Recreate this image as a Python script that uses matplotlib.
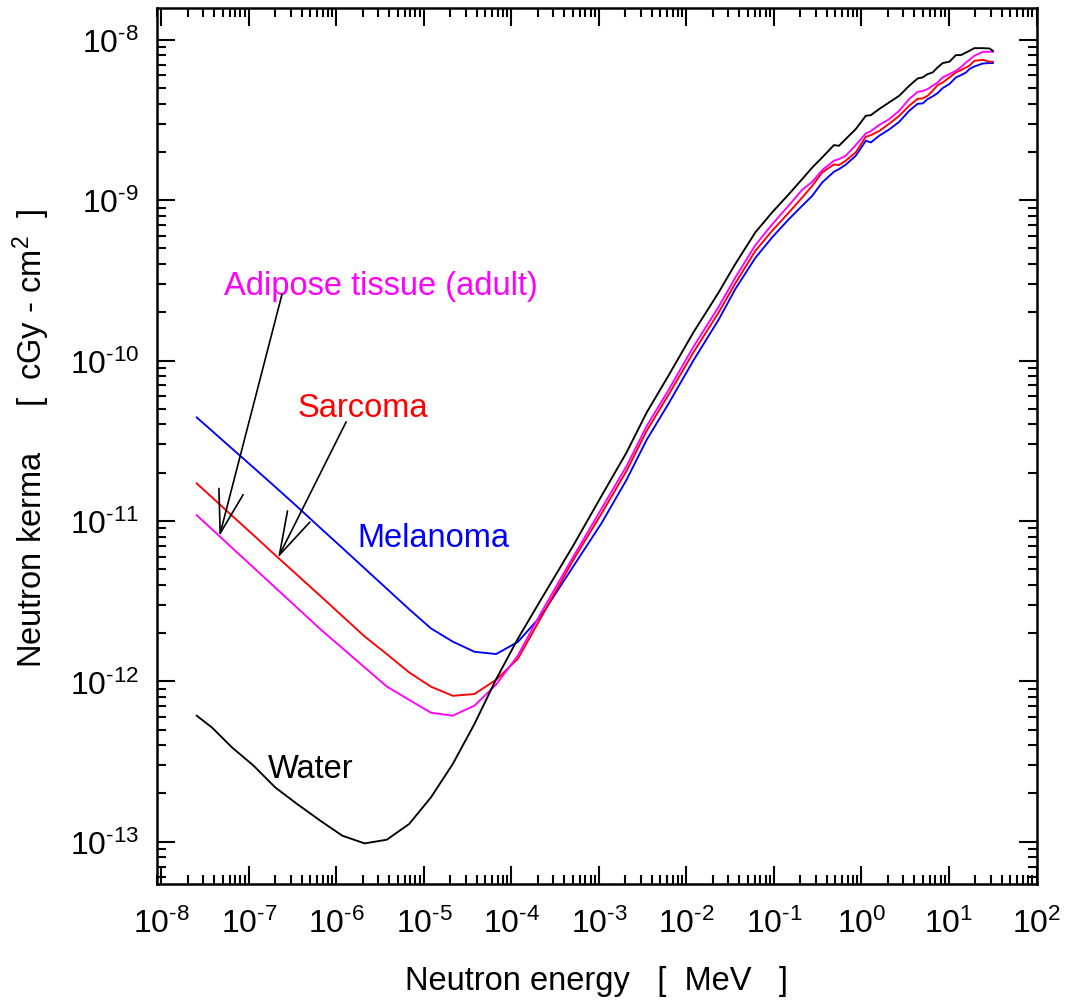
import numpy as np
import matplotlib
matplotlib.use("Agg")
import matplotlib.pyplot as plt
from matplotlib.ticker import LogLocator, FixedLocator, FuncFormatter, NullFormatter

plt.rcParams['font.family'] = ['Liberation Sans', 'DejaVu Sans']
plt.rcParams['mathtext.fontset'] = 'custom'
plt.rcParams['mathtext.rm'] = 'Liberation Sans'
plt.rcParams['mathtext.it'] = 'Liberation Sans:italic'
plt.rcParams['mathtext.bf'] = 'Liberation Sans:bold'
plt.rcParams['mathtext.default'] = 'regular'
plt.rcParams['axes.unicode_minus'] = False

# ---------------- data (neutron energy in MeV, kerma in cGy cm^2) ----------------
energy_MeV = [2.53e-8, 3.77e-8, 6.38e-8, 1.13e-7, 2.00e-7, 3.55e-7, 6.58e-7, 1.17e-6,
              2.10e-6, 3.76e-6, 6.76e-6, 1.20e-5, 2.13e-5, 3.77e-5, 6.67e-5, 1.18e-4,
              2.19e-4, 5.06e-4, 1.07e-3, 2.07e-3, 3.51e-3, 6.21e-3, 1.20e-2, 2.33e-2,
              3.61e-2, 6.12e-2, 9.51e-2, 0.148, 0.210, 0.274, 0.356, 0.484, 0.553, 0.659,
              0.859, 1.12, 1.28, 1.59, 2.07, 2.70, 3.51, 4.38, 4.99, 5.70, 6.50, 7.41,
              8.47, 10.1, 12.0, 13.7, 15.7, 17.1, 19.5, 24.4, 29.0, 31.7]

kerma_water = [6.11e-13, 5.16e-13, 3.88e-13, 2.98e-13, 2.18e-13, 1.72e-13, 1.35e-13, 1.09e-13,
               9.77e-14, 1.03e-13, 1.29e-13, 1.89e-13, 3.05e-13, 5.42e-13, 1.03e-12, 1.84e-12,
               3.26e-12, 7.00e-12, 1.435e-11, 2.68e-11, 4.75e-11, 8.04e-11, 1.50e-10, 2.66e-10,
               4.00e-10, 6.30e-10, 8.39e-10, 1.091e-9, 1.354e-9, 1.600e-9, 1.848e-9, 2.205e-9,
               2.184e-9, 2.404e-9, 2.773e-9, 3.36e-9, 3.39e-9, 3.70e-9, 4.07e-9, 4.48e-9,
               5.17e-9, 5.74e-9, 5.83e-9, 6.11e-9, 6.26e-9, 6.73e-9, 7.16e-9, 7.30e-9,
               8.03e-9, 8.03e-9, 8.34e-9, 8.54e-9, 8.87e-9, 8.87e-9, 8.83e-9, 8.54e-9]

kerma_adipose = [1.086e-11, 8.89e-12, 6.82e-12, 5.12e-12, 3.84e-12, 2.88e-12, 2.11e-12, 1.61e-12,
                 1.222e-12, 9.29e-13, 7.67e-13, 6.38e-13, 6.11e-13, 7.05e-13, 9.55e-13, 1.445e-12,
                 2.69e-12, 5.96e-12, 1.194e-11, 2.203e-11, 3.91e-11, 6.53e-11, 1.219e-10, 2.163e-10,
                 3.29e-10, 5.24e-10, 7.06e-10, 9.29e-10, 1.161e-9, 1.303e-9, 1.541e-9, 1.762e-9,
                 1.804e-9, 1.892e-9, 2.205e-9, 2.607e-9, 2.697e-9, 2.94e-9, 3.20e-9, 3.61e-9,
                 4.27e-9, 4.74e-9, 4.79e-9, 4.93e-9, 5.17e-9, 5.42e-9, 5.83e-9, 6.11e-9,
                 6.41e-9, 6.76e-9, 7.23e-9, 7.50e-9, 7.95e-9, 8.42e-9, 8.42e-9, 8.42e-9]

kerma_sarcoma = [1.714e-11, 1.406e-11, 1.081e-11, 8.15e-12, 6.12e-12, 4.61e-12, 3.40e-12, 2.55e-12,
                 1.905e-12, 1.48e-12, 1.138e-12, 9.27e-13, 8.13e-13, 8.34e-13, 1.023e-12, 1.38e-12,
                 2.51e-12, 5.69e-12, 1.114e-11, 2.056e-11, 3.65e-11, 6.10e-11, 1.125e-10, 1.995e-10,
                 3.03e-10, 4.83e-10, 6.44e-10, 8.38e-10, 1.040e-9, 1.230e-9, 1.490e-9, 1.671e-9,
                 1.655e-9, 1.762e-9, 1.986e-9, 2.485e-9, 2.546e-9, 2.697e-9, 2.995e-9, 3.36e-9,
                 3.88e-9, 4.29e-9, 4.31e-9, 4.48e-9, 4.81e-9, 5.22e-9, 5.42e-9, 5.83e-9,
                 6.26e-9, 6.47e-9, 6.73e-9, 6.89e-9, 7.40e-9, 7.50e-9, 7.30e-9, 7.30e-9]

kerma_melanoma = [4.42e-11, 3.65e-11, 2.83e-11, 2.15e-11, 1.63e-11, 1.23e-11, 9.02e-12, 6.78e-12,
                  5.06e-12, 3.78e-12, 2.82e-12, 2.14e-12, 1.77e-12, 1.53e-12, 1.48e-12, 1.76e-12,
                  2.57e-12, 5.19e-12, 9.70e-12, 1.811e-11, 3.21e-11, 5.37e-11, 1.002e-10, 1.799e-10,
                  2.79e-10, 4.37e-10, 5.86e-10, 7.62e-10, 9.23e-10, 1.066e-9, 1.291e-9, 1.504e-9,
                  1.563e-9, 1.663e-9, 1.892e-9, 2.346e-9, 2.291e-9, 2.52e-9, 2.76e-9, 3.08e-9,
                  3.61e-9, 3.99e-9, 4.01e-9, 4.27e-9, 4.44e-9, 4.65e-9, 5.00e-9, 5.30e-9,
                  5.83e-9, 6.02e-9, 6.26e-9, 6.57e-9, 6.82e-9, 7.12e-9, 7.16e-9, 7.16e-9]

labels = ["Water", "Melanoma", "Sarcoma", "Adipose tissue (adult)"]
colors = ["#000000", "#0000ff", "#ff0000", "#ff00ff"]

x_decades = list(range(-8, 3))
y_decades = list(range(-13, -7))

# ---------------- figure ----------------
fig = plt.figure(figsize=(10.69, 10.03), dpi=100)
ax = fig.add_axes([0.1471, 0.1176, 0.8225, 0.8737])

E = np.array(energy_MeV)
series = {
    "Melanoma": kerma_melanoma,
    "Sarcoma": kerma_sarcoma,
    "Adipose tissue (adult)": kerma_adipose,
    "Water": kerma_water,
}
col = dict(zip(labels, colors))
for name in ["Melanoma", "Sarcoma", "Adipose tissue (adult)", "Water"]:
    ax.plot(E, series[name], color=col[name], lw=1.35, solid_joinstyle='miter')

ax.set_xscale('log')
ax.set_yscale('log')
ax.set_xlim(8.95e-9, 1e2)
ax.set_ylim(5.45e-14, 1.585e-8)


def dec_label(v, pos=None):
    n = int(round(np.log10(v)))
    if n < 0:
        return r'$10^{\text{-}%d}$' % (-n)
    return r'$10^{%d}$' % n


ax.xaxis.set_major_locator(FixedLocator([10.0 ** k for k in x_decades]))
ax.yaxis.set_major_locator(FixedLocator([10.0 ** k for k in y_decades]))
ax.xaxis.set_minor_locator(LogLocator(base=10, subs=np.arange(2, 10), numticks=200))
ax.yaxis.set_minor_locator(LogLocator(base=10, subs=np.arange(2, 10), numticks=200))
ax.xaxis.set_major_formatter(FuncFormatter(dec_label))
ax.yaxis.set_major_formatter(FuncFormatter(dec_label))
ax.xaxis.set_minor_formatter(NullFormatter())
ax.yaxis.set_minor_formatter(NullFormatter())

ax.tick_params(which='both', direction='in', top=True, right=True, width=1.5, colors='black')
ax.tick_params(which='major', length=13)
ax.tick_params(which='minor', length=6.5)
ax.tick_params(axis='x', which='major', labelsize=23, pad=17)
ax.tick_params(axis='y', which='major', labelsize=23, pad=13)
for s in ax.spines.values():
    s.set_linewidth(1.8)

ax.set_xlabel('Neutron energy   [  MeV   ]', fontsize=23.5)
ax.xaxis.label.set_verticalalignment('baseline')
ax.xaxis.set_label_coords(0.558, 0.0130, transform=fig.transFigure)

ax.set_ylabel('Neutron kerma     [  cGy - cm$^{2}$  ]', fontsize=23.5)
ax.yaxis.label.set_verticalalignment('baseline')
ax.yaxis.set_label_coords(0.0393, 0.5630, transform=fig.transFigure)

# ---------------- annotations ----------------
fs_ann = 23.5
ax.text(5.12e-8, 2.60e-10, "Adipose tissue (adult)", color=col["Adipose tissue (adult)"],
        fontsize=fs_ann, ha='left', va='baseline')
ax.text(3.55e-7, 4.53e-11, "Sarcoma", color=col["Sarcoma"], fontsize=fs_ann,
        ha='left', va='baseline')
ax.text(1.73e-6, 7.0e-12, "Melanoma", color=col["Melanoma"], fontsize=fs_ann,
        ha='left', va='baseline')
ax.text(1.63e-7, 2.52e-13, "Water", color=col["Water"], fontsize=fs_ann,
        ha='left', va='baseline')

logE = np.log10(E)


def on_curve(e, vals):
    return 10 ** np.interp(np.log10(e), logE, np.log10(vals))


arrow_kw = dict(arrowstyle='->,head_length=3.1,head_width=0.9', mutation_scale=10,
                color='black', lw=1.2, shrinkA=0, shrinkB=0)
e_tip_a = 4.6e-8
ax.annotate('', xy=(e_tip_a, on_curve(e_tip_a, kerma_adipose)), xytext=(2.39e-7, 2.60e-10),
            arrowprops=arrow_kw)
e_tip_s = 2.15e-7
ax.annotate('', xy=(e_tip_s, on_curve(e_tip_s, kerma_sarcoma)), xytext=(1.29e-6, 4.15e-11),
            arrowprops=arrow_kw)

fig.savefig('out.png', dpi=100)
